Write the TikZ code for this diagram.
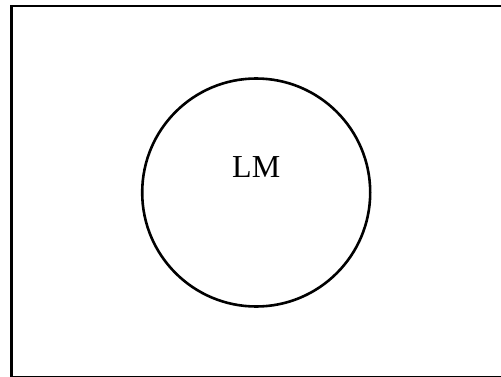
\documentclass[tikz,border=0pt]{standalone}
\usepackage{fontspec}
\setmainfont{Liberation Serif}
\usetikzlibrary{positioning}

\begin{document}
\begin{tikzpicture}[
  x=1pt, y=1pt,
  font=\fontsize{32}{36}\selectfont,
  Frame/.style={draw, line width=2.8pt},
  Ring/.style={draw, circle, line width=2.6pt, minimum size=228pt,
               inner sep=0pt, outer sep=0pt},
  ]
\useasboundingbox (0,0) rectangle (501,376);
\draw [Frame] (11.5,-1) |- (502,370) -- (502,-1) -- cycle;
\node [Ring] (lm) at (256.2,183.5) {};
\node [yshift=25pt] at (lm.center) (lbl) {LM};
\end{tikzpicture}
\end{document}
